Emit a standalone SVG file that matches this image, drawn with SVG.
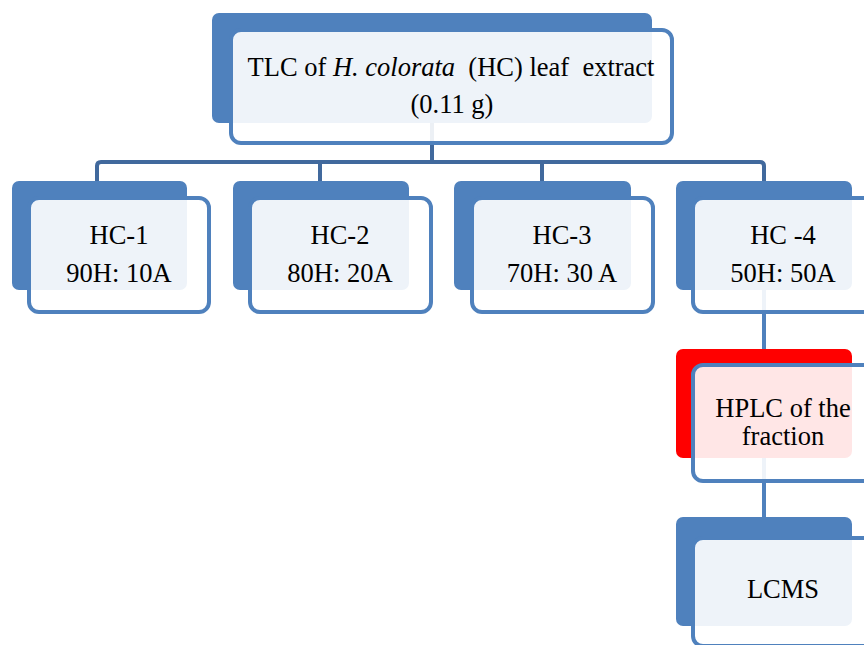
<svg xmlns="http://www.w3.org/2000/svg" width="864" height="645" viewBox="0 0 864 645">
<style>
.back{fill:#4F81BD}
.backr{fill:#FF0000}
.front{fill:#FFFFFF;fill-opacity:0.9;stroke:#4F81BD;stroke-width:4}
.t{font-family:"Liberation Serif","Times New Roman",serif;font-size:26.5px;fill:#000;text-anchor:middle;white-space:pre}
.c1{fill:none;stroke:#41699D;stroke-width:4;stroke-linejoin:round}
.c2{fill:none;stroke:#4F81BD;stroke-width:4}
</style>
<rect width="864" height="645" fill="#FFFFFF"/>
<g id="connectors">
<path class="c1" d="M432,123 V162"/>
<path class="c1" d="M97,181 V166 Q97,162 101,162 H760 Q764,162 764,166 V181"/>
<path class="c1" d="M320,162 V181"/>
<path class="c1" d="M542,162 V181"/>
<path class="c2" d="M764,290 V349"/>
<path class="c2" d="M764,458 V517"/>
</g>
<g id="top">
<rect class="back" x="212" y="13" width="440" height="110" rx="7"/>
<rect class="front" x="231" y="30" width="441" height="113" rx="10"/>
<text class="t" x="451" y="76" xml:space="preserve">TLC of <tspan font-style="italic">H. colorata</tspan>  (HC) leaf  extract</text>
<text class="t" x="452" y="113">(0.11 g)</text>
</g>
<g id="hc1">
<rect class="back" x="12" y="181" width="175" height="109" rx="7"/>
<rect class="front" x="29" y="198" width="180" height="114" rx="10"/>
<text class="t" x="119" y="244">HC-1</text>
<text class="t" x="119" y="282">90H: 10A</text>
</g>
<g id="hc2">
<rect class="back" x="233" y="181" width="176" height="109" rx="7"/>
<rect class="front" x="250" y="198" width="181" height="114" rx="10"/>
<text class="t" x="340" y="244">HC-2</text>
<text class="t" x="340" y="282">80H: 20A</text>
</g>
<g id="hc3">
<rect class="back" x="454" y="181" width="177" height="109" rx="7"/>
<rect class="front" x="472" y="198" width="181" height="114" rx="10"/>
<text class="t" x="562" y="244">HC-3</text>
<text class="t" x="562" y="282">70H: 30 A</text>
</g>
<g id="hc4">
<rect class="back" x="676" y="181" width="176" height="109" rx="7"/>
<rect class="front" x="693" y="198" width="181" height="114" rx="10"/>
<text class="t" x="783" y="244">HC -4</text>
<text class="t" x="783" y="282">50H: 50A</text>
</g>
<g id="hplc">
<rect class="backr" x="676" y="349" width="176" height="109" rx="7"/>
<rect class="front" x="693" y="365" width="181" height="116" rx="10"/>
<text class="t" x="783" y="417">HPLC of the</text>
<text class="t" x="783" y="445">fraction</text>
</g>
<g id="lcms">
<rect class="back" x="676" y="517" width="176" height="109" rx="7"/>
<rect class="front" x="693" y="538" width="181" height="108" rx="10"/>
<text class="t" x="783" y="598">LCMS</text>
</g>
</svg>
